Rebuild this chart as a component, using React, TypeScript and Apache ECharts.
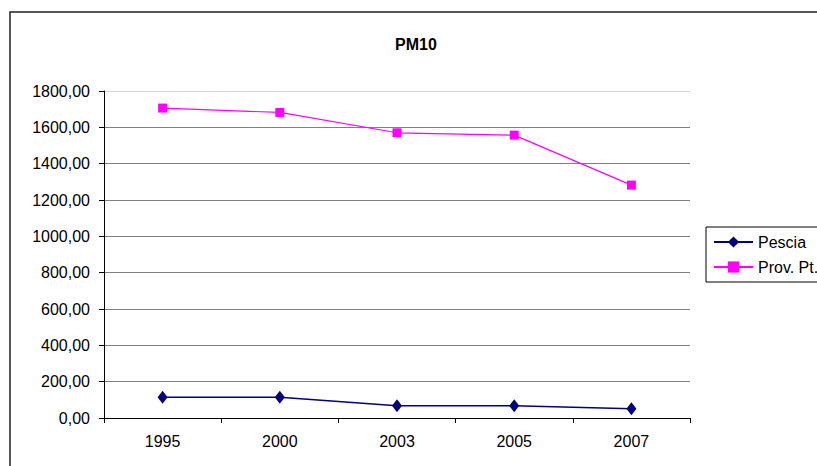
import React, { useEffect, useRef } from "react";
import * as echarts from "echarts";

const years = ["1995", "2000", "2003", "2005", "2007"];
const pescia = [114, 114, 68, 68, 51];
const provPt = [1706, 1682, 1570, 1557, 1282];

export default function App() {
  const ref = useRef<HTMLDivElement>(null);
  useEffect(() => {
    if (!ref.current) return;
    const chart = echarts.init(ref.current, null, { renderer: "svg" });
    const font = "'Liberation Sans', Arial, sans-serif";
    const gridColors = ["#808080", "#808080", "#808080", "#808080", "#808080", "#808080", "#808080", "#808080", "#808080", "#d4d4d4"];
    chart.setOption({
      animation: false,
      backgroundColor: "#ffffff",
      title: {
        text: "PM10",
        left: 411,
        top: 31,
        textAlign: "center",
        textStyle: { fontFamily: font, fontSize: 16, fontWeight: "bold", color: "#000" },
      },
      graphic: [
        {
          type: "rect",
          shape: { x: 10, y: 12, width: 900, height: 600 },
          style: { fill: "none", stroke: "#222", lineWidth: 1.5 },
          silent: true,
        },
      ],
      legend: {
        orient: "vertical",
        left: 706,
        top: 227,
        itemWidth: 39,
        itemHeight: 14,
        itemGap: 9,
        padding: [7, 30, 7, 7],
        borderColor: "#000",
        borderWidth: 1,
        textStyle: { fontFamily: font, fontSize: 16, color: "#000" },
        data: ["Pescia", "Prov. Pt."],
      },
      grid: { left: 104, right: 127, top: 91, bottom: 48, containLabel: false },
      xAxis: {
        type: "category",
        data: years,
        boundaryGap: true,
        axisLine: { lineStyle: { color: "#000", width: 1 } },
        axisTick: { show: true, length: 5, lineStyle: { color: "#000" } },
        axisLabel: { fontFamily: font, fontSize: 16, color: "#000", margin: 15 },
      },
      yAxis: {
        type: "value",
        min: 0,
        max: 1800,
        interval: 200,
        axisLine: { show: true, lineStyle: { color: "#000", width: 1 } },
        axisTick: { show: true, length: 5, lineStyle: { color: "#000" } },
        axisLabel: {
          fontFamily: font,
          fontSize: 16,
          color: "#000",
          margin: 14,
          formatter: (v: number) => v.toFixed(2).replace(".", ","),
        },
        splitLine: { show: true, lineStyle: { color: gridColors, width: 1.2 } },
      },
      series: [
        {
          name: "Pescia",
          type: "line",
          data: pescia,
          symbol: "diamond",
          symbolSize: [10, 13],
          lineStyle: { color: "#000080", width: 1.5 },
          itemStyle: { color: "#000080" },
        },
        {
          name: "Prov. Pt.",
          type: "line",
          data: provPt,
          symbol: "rect",
          symbolSize: 9,
          lineStyle: { color: "#FF00FF", width: 1.2 },
          itemStyle: { color: "#FF00FF" },
        },
      ],
    });
    return () => chart.dispose();
  }, []);
  return <div ref={ref} style={{ width: 817, height: 466, position: "absolute", left: 0, top: 0 }} />;
}
